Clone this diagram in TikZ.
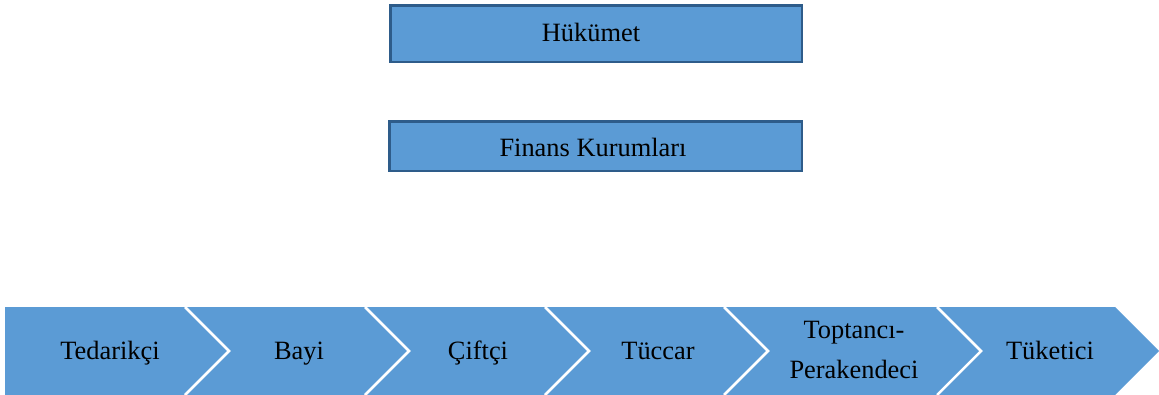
\documentclass[tikz,border=0pt]{standalone}
\usepackage{fontspec}
\setmainfont{Liberation Serif}
\definecolor{boxfill}{HTML}{5B9BD5}
\definecolor{boxline}{HTML}{2E5C8A}
\begin{document}
\begin{tikzpicture}[x=1pt,y=1pt,
  topbox/.style={draw=boxline, line width=2.5pt, fill=boxfill, inner sep=0pt},
  chev/.style={fill=boxfill},
  sep/.style={draw=white, line width=2.5pt, line join=miter},
  lbl/.style={font=\fontsize{26.4}{40}\selectfont, text=black, inner sep=0pt, anchor=base, align=center}]
\useasboundingbox (0,0) rectangle (1159,-394);
% top boxes
\node[topbox, minimum width=411.5pt, minimum height=56.5pt] (gov) at (596,-33.5) {};
\node[lbl] (govt) at (591,-41) {Hükümet};
\node[topbox, minimum width=412.5pt, minimum height=49.5pt] (fin) at (595.5,-146) {};
\node[lbl] (fint) at (593,-156) {Finans Kurumları};
% chevrons
\def\yt{-307}\def\yb{-395}\def\ym{-351}
\path[chev] (5,\yt) -- (185,\yt) -- (229,\ym) -- (185,\yb) -- (5,\yb) -- cycle;
\foreach \l/\r in {185/365, 365/545, 545/724, 724/937, 937/1115}{
  \path[chev] (\l,\yt) -- (\r,\yt) -- ({\r+44},\ym) -- (\r,\yb) -- (\l,\yb) -- ({\l+44},\ym) -- cycle;
  \path[sep] (\l,\yt) -- ({\l+44},\ym) -- (\l,\yb);
}
\node[lbl] (c1) at (110,-359) {Tedarikçi};
\node[lbl] (c2) at (299,-359) {Bayi};
\node[lbl] (c3) at (478,-359) {Çiftçi};
\node[lbl] (c4) at (658,-359) {Tüccar};
\node[lbl] (c5) at (854,-378) {Toptancı-\\Perakendeci};
\node[lbl] (c6) at (1050,-359) {Tüketici};
\end{tikzpicture}
\end{document}
